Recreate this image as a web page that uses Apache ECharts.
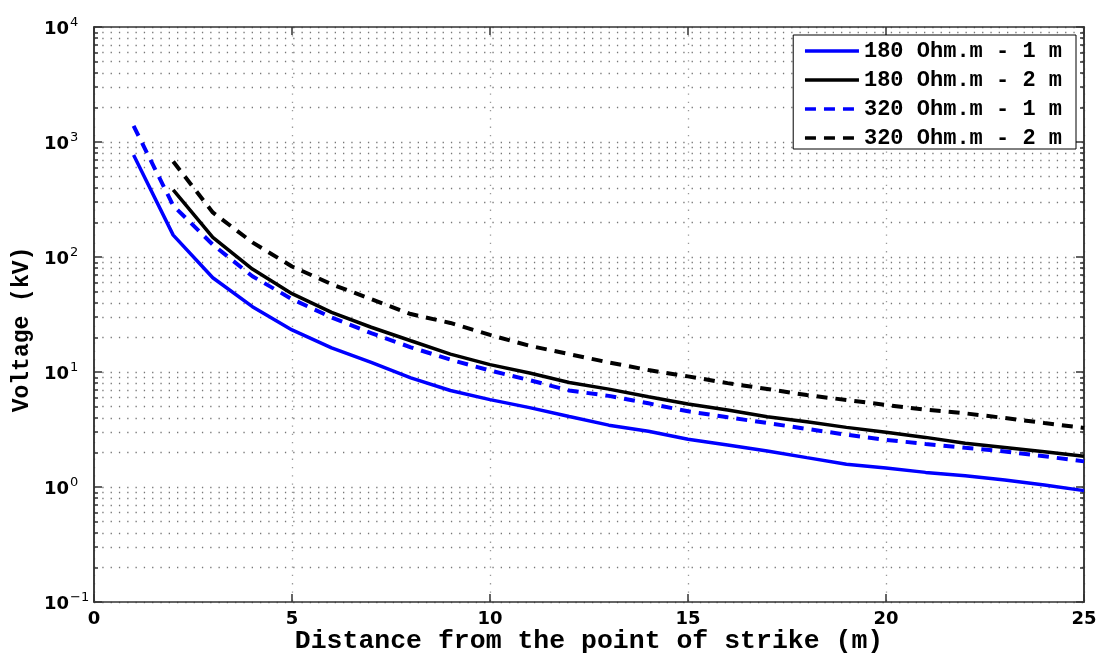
<!DOCTYPE html>
<html>
<head>
<meta charset="utf-8">
<script src="https://cdn.jsdelivr.net/npm/echarts@6/dist/echarts.min.js"></script>
<style>
  html, body { margin: 0; padding: 0; background: #fff; }
  #chart { width: 1104px; height: 655px; }
</style>
</head>
<body>
<div id="chart"></div>
<script>
// distances (m)
var dist1 = [1, 2, 3, 4, 5, 6, 7, 8, 9, 10, 11, 12, 13, 14, 15, 16, 17, 18, 19, 20, 21, 22, 23, 24, 25];
var dist2 = [2, 3, 4, 5, 6, 7, 8, 9, 10, 11, 12, 13, 14, 15, 16, 17, 18, 19, 20, 21, 22, 23, 24, 25];

// voltages (kV)
var v180_1m = [770, 155, 66, 37, 23.2, 16.2, 12.1, 8.9, 6.9, 5.75, 4.9, 4.1, 3.45, 3.05, 2.6, 2.32, 2.06, 1.8, 1.58, 1.46, 1.34, 1.25, 1.15, 1.04, 0.93];
var v180_2m = [384, 148, 78.5, 48, 33, 24.5, 18.7, 14.3, 11.6, 9.8, 8.1, 7.1, 6.1, 5.27, 4.68, 4.09, 3.7, 3.3, 2.99, 2.7, 2.4, 2.21, 2.03, 1.85];
var v320_1m = [1380, 280, 128, 68, 43, 29.8, 21.8, 16.4, 12.8, 10.3, 8.5, 6.9, 6.2, 5.34, 4.55, 4.04, 3.6, 3.2, 2.85, 2.57, 2.37, 2.19, 2.04, 1.85, 1.67];
var v320_2m = [676, 244, 134, 82.7, 58, 43, 31.9, 26.7, 21, 16.9, 14.3, 12.1, 10.4, 9.16, 8.0, 7.12, 6.3, 5.71, 5.17, 4.7, 4.37, 3.98, 3.6, 3.26];

var names = ['180 Ohm.m - 1 m', '180 Ohm.m - 2 m', '320 Ohm.m - 1 m', '320 Ohm.m - 2 m'];

// y ticks: decades and 2..9 in between
var yMajor = [0.1, 1, 10, 100, 1000, 10000];
var yAll = [];
for (var i = 0; i < yMajor.length - 1; i++) {
    for (var k = 1; k <= 9; k++) yAll.push(yMajor[i] * k);
}
yAll.push(10000);

function pairs(xs, ys) {
    return xs.map(function (x, i) { return [x, ys[i]]; });
}

var dotted = [1.3, 7];
var tickFont = 'DejaVu Sans';
var monoFont = 'Liberation Mono';
var axisCol = '#333';

function yAx(pos, ticks, len, opts) {
    var a = {
        type: 'log', logBase: 10, min: 0.1, max: 10000, position: pos,
        axisLine: { show: true, lineStyle: { color: axisCol, width: 1.5 } },
        axisTick: { show: true, inside: true, length: len, customValues: ticks, lineStyle: { color: axisCol, width: 1.5 } },
        axisLabel: { show: false },
        splitLine: { show: false }
    };
    return Object.assign(a, opts || {});
}

var chart = echarts.init(document.getElementById('chart'));
var option = {
    animation: false,
    backgroundColor: '#fff',
    grid: { left: 94, right: 20, top: 27, bottom: 53, containLabel: false, outerBoundsMode: 'none' },
    legend: {
        data: names,
        orient: 'vertical',
        right: 28, top: 35,
        itemWidth: 54, itemHeight: 22, itemGap: 7,
        padding: [5, 14, 0, 10],
        backgroundColor: '#fff',
        borderColor: '#000', borderWidth: 1,
        itemStyle: { opacity: 0 },
        lineStyle: { width: 3.5 },
        textStyle: { fontFamily: monoFont, fontWeight: 'bold', fontSize: 22, color: '#000' }
    },
    xAxis: [{
        type: 'value', min: 0, max: 25, interval: 5, position: 'bottom',
        name: 'Distance from the point of strike (m)',
        nameLocation: 'middle', nameGap: 26, nameMoveOverlap: false,
        nameTextStyle: { fontFamily: monoFont, fontWeight: 'bold', fontSize: 26.5, color: '#000' },
        axisLine: { show: true, lineStyle: { color: axisCol, width: 1.5 } },
        axisTick: { show: true, inside: true, length: 8, lineStyle: { color: axisCol, width: 1.5 } },
        axisLabel: { fontFamily: tickFont, fontWeight: 'bold', fontSize: 18, color: '#000', margin: 8 },
        splitLine: { show: true, lineStyle: { color: '#999', width: 1.3, type: dotted } }
    }, {
        type: 'value', min: 0, max: 25, interval: 5, position: 'top',
        axisLine: { show: true, lineStyle: { color: axisCol, width: 1.5 } },
        axisTick: { show: true, inside: true, length: 8, lineStyle: { color: axisCol, width: 1.5 } },
        axisLabel: { show: false },
        splitLine: { show: false }
    }],
    yAxis: [
        yAx('left', yAll, 4, {
            name: 'Voltage (kV)', nameLocation: 'middle', nameGap: 60, nameMoveOverlap: false,
            nameTextStyle: { fontFamily: monoFont, fontWeight: 'bold', fontSize: 23, color: '#000', padding: [0, 30, 0, 0] },
            axisLabel: {
                show: true, customValues: yMajor, margin: 50, align: 'left',
                formatter: function (v) {
                    var e = Math.round(Math.log10(v));
                    return '{b|10}{s|' + (e < 0 ? '\u22121' : e) + '}';
                },
                rich: {
                    b: { fontFamily: tickFont, fontWeight: 'bold', fontSize: 18, color: '#000', lineHeight: 22, verticalAlign: 'bottom' },
                    s: { fontFamily: tickFont, fontSize: 13, color: '#000', verticalAlign: 'top', lineHeight: 22, padding: [0, 0, 10, 1] }
                }
            },
            splitLine: { show: true, lineStyle: { color: '#777', width: 1.3, type: dotted } }
        }),
        yAx('left', yMajor, 8),
        yAx('right', yAll, 4),
        yAx('right', yMajor, 8)
    ],
    series: [{
        name: names[0], type: 'line', symbol: 'none',
        lineStyle: { color: '#0000ff', width: 3.5, type: 'solid' }, itemStyle: { color: '#0000ff' },
        data: pairs(dist1, v180_1m)
    }, {
        name: names[1], type: 'line', symbol: 'none',
        lineStyle: { color: '#000', width: 3.5, type: 'solid' }, itemStyle: { color: '#000' },
        data: pairs(dist2, v180_2m)
    }, {
        name: names[2], type: 'line', symbol: 'none',
        lineStyle: { color: '#0000ff', width: 4, type: [11, 8] }, itemStyle: { color: '#0000ff' },
        data: pairs(dist1, v320_1m)
    }, {
        name: names[3], type: 'line', symbol: 'none',
        lineStyle: { color: '#000', width: 4, type: [11, 8] }, itemStyle: { color: '#000' },
        data: pairs(dist2, v320_2m)
    }]
};
chart.setOption(option);
window.addEventListener('resize', chart.resize);
</script>
</body>
</html>
